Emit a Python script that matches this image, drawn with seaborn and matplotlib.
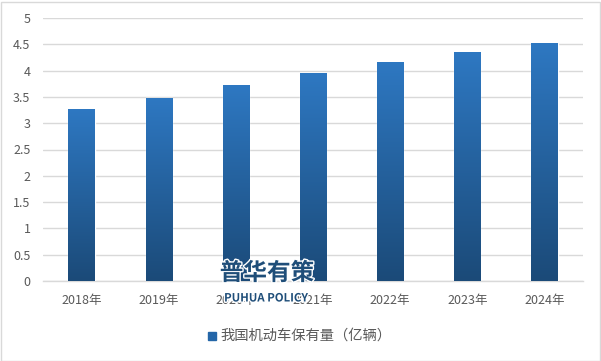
import numpy as np
import pandas as pd
import matplotlib
matplotlib.use("Agg")
import matplotlib.pyplot as plt
import matplotlib.patheffects as pe
import seaborn as sns
from matplotlib.colors import LinearSegmentedColormap
from matplotlib.patches import Rectangle

years = ["2018年", "2019年", "2020年", "2021年", "2022年", "2023年", "2024年"]
values = [3.27, 3.48, 3.72, 3.95, 4.17, 4.35, 4.53]
series_name = "我国机动车保有量（亿辆）"
yticks = [0, 0.5, 1, 1.5, 2, 2.5, 3, 3.5, 4, 4.5, 5]
ytick_labels = ["0", "0.5", "1", "1.5", "2", "2.5", "3", "3.5", "4", "4.5", "5"]

sns.set_theme(style="white")
plt.rcParams['font.family'] = ['Noto Sans CJK SC', 'DejaVu Sans']

df = pd.DataFrame({"year": years, "value": values})

fig = plt.figure(figsize=(6.01, 3.61), dpi=100)
fig.patch.set_facecolor("white")
ax = fig.add_axes([43/601, 1 - 281/361, (583 - 43)/601, (281 - 18)/361])

sns.barplot(data=df, x="year", y="value", color="#2E75B6", width=0.34,
            ax=ax, saturation=1, zorder=3)

ax.set_ylim(0, 5)
ax.set_xlim(-0.5, len(years) - 0.5)
ax.set_yticks(yticks)
ax.set_yticklabels(ytick_labels)
ax.yaxis.grid(True, color="#D9D9D9", linewidth=1, zorder=0)
ax.set_axisbelow(True)
for s in ["top", "right", "left"]:
    ax.spines[s].set_visible(False)
ax.spines["bottom"].set_color("#D9D9D9")
ax.spines["bottom"].set_linewidth(1)
ax.set_xlabel("")
ax.set_ylabel("")
ax.tick_params(axis="both", length=0, colors="#595959", labelsize=9)
ax.tick_params(axis="y", pad=9)
ax.tick_params(axis="x", pad=9.5)

# gradient fill for bars
cmap = LinearSegmentedColormap.from_list("g", ["#1B4A78", "#2E78C2"])
grad = np.linspace(0, 1, 256).reshape(-1, 1)
for p in list(ax.patches):
    x0, y0 = p.get_x(), p.get_y()
    w, h = p.get_width(), p.get_height()
    im = ax.imshow(grad, extent=[x0, x0 + w, y0, y0 + h], origin="lower",
                   cmap=cmap, aspect="auto", zorder=4)
    im.set_clip_path(p)
ax.set_xlim(-0.5, len(years) - 0.5)
ax.set_ylim(0, 5)

# legend
fig.patches.append(Rectangle((208/601, 1 - 340/361), 8/601, 8/361,
                             transform=fig.transFigure, color="#2466A8"))
fig.text(220/601, 1 - 336/361, series_name, fontsize=10.3, color="#595959",
         va="center", ha="left")

# watermark
halo = [pe.withStroke(linewidth=2, foreground="white")]
fig.text(267/601, 1 - 273/361, "普华有策", fontsize=17, color="#1F4E79",
         fontweight="bold", ha="center", va="center", path_effects=halo)
fig.text(266/601, 1 - 298/361, "PUHUA POLICY", fontsize=8.2, color="#1F4E79",
         fontweight="bold", ha="center", va="center", path_effects=halo)

# figure border
fig.patches.append(Rectangle((0.5/601, 0.5/361), 599/601, 359/361,
                             transform=fig.transFigure, fill=False,
                             edgecolor="#D9D9D9", linewidth=1))

fig.savefig("out.png", dpi=100, facecolor="white")
